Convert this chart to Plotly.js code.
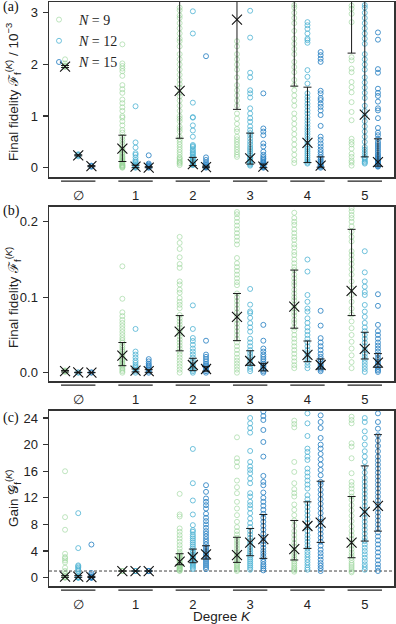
<!DOCTYPE html>
<html>
<head>
<meta charset="utf-8">
<script src="https://cdn.plot.ly/plotly-3.0.1.min.js"></script>
<style>
  html, body { margin: 0; padding: 0; background: #fff; }
  #myDiv { width: 396px; height: 624px; }
</style>
</head>
<body>
<div id="myDiv"></div>
<script>
var cats = ['\u2205', '1', '2', '3', '4', '5'];
var Ns = [9, 12, 15];

// panel (a): final fidelity / 1e-3, one list per degree
var aPts9 = [
  [1.95, 1.96, 1.97, 1.98, 2.02, 2.1],
  [0.0, 0.01, 0.02, 0.03, 0.04, 0.05, 0.06, 0.08, 0.1, 0.12, 0.14, 0.16, 0.18, 0.2, 0.22, 0.25, 0.28, 0.3, 0.33, 0.36, 0.4, 0.45, 0.5, 0.55, 0.6, 0.68, 0.73, 0.82, 0.9, 0.97, 1.0, 1.1, 1.17, 1.25, 1.32, 1.45, 1.52, 1.6, 1.78, 1.87, 1.92, 1.97, 2.02, 2.39],
  [0.05, 0.08, 0.1, 0.12, 0.15, 0.18, 0.2, 0.25, 0.3, 0.35, 0.4, 0.45, 0.5, 0.55, 0.6, 0.7, 0.75, 0.8, 0.9, 0.95, 1.0, 1.1, 1.2, 1.3, 1.38, 1.45, 1.55, 1.62, 1.7, 1.8, 1.9, 2.0, 2.1, 2.2, 2.35, 2.45, 2.5, 2.6, 2.7, 2.8, 2.9, 2.95, 3.05, 3.1, 3.5, 4.2, 5.1],
  [0.21, 0.25, 0.3, 0.35, 0.4, 0.45, 0.5, 0.55, 0.6, 0.7, 0.75, 0.85, 0.95, 1.05, 1.2, 1.3, 1.4, 1.5, 1.6, 1.75, 1.9, 2.0, 2.1, 2.2, 2.35, 2.45, 3.6, 4.5, 5.8, 7.2],
  [0.09, 0.15, 0.25, 0.35, 0.45, 0.55, 0.65, 0.75, 0.85, 0.95, 1.05, 1.2, 1.3, 1.4, 1.5, 1.6, 1.7, 1.85, 1.95, 2.05, 2.2, 2.3, 2.4, 2.5, 2.65, 2.8, 2.9, 3.0, 3.1, 3.15, 3.6, 4.3, 5.2, 6.5],
  [0.04, 0.1, 0.14, 0.21, 0.27, 0.37, 0.45, 0.5, 0.56, 0.92, 1.08, 1.27, 1.46, 1.56, 1.66, 1.85, 1.92, 2.08, 2.14, 2.82, 2.98, 3.08, 3.14, 3.6, 4.4, 5.5, 7.0]
];
var aPts12 = [
  [0.22, 0.24, 0.25, 0.26],
  [0.0, 0.01, 0.02, 0.03, 0.04, 0.05, 0.07, 0.1, 0.12, 0.15, 0.2, 0.25, 0.28, 0.39, 0.49, 1.19],
  [0.05, 0.06, 0.07, 0.08, 0.1, 0.12, 0.15, 0.18, 0.2, 0.22, 0.25, 0.28, 0.3, 0.33, 0.36, 0.4, 0.42, 0.44, 0.6, 0.72, 0.82, 0.97, 0.98, 1.26, 2.6, 3.03],
  [0.04, 0.06, 0.08, 0.1, 0.12, 0.15, 0.18, 0.2, 0.24, 0.28, 0.32, 0.36, 0.4, 0.45, 0.5, 0.56, 0.62, 0.67, 0.73, 0.8, 0.89, 0.96, 1.05, 1.15, 1.36, 1.44, 1.5, 1.75, 1.84, 2.52, 3.04],
  [0.08, 0.1, 0.13, 0.16, 0.2, 0.24, 0.28, 0.32, 0.36, 0.4, 0.45, 0.5, 0.55, 0.6, 0.65, 0.7, 0.75, 0.8, 0.86, 0.92, 0.98, 1.05, 1.11, 1.18, 1.24, 1.31, 1.37, 1.44, 1.63, 1.76, 1.89, 2.42, 2.47, 2.5, 2.6, 2.69, 2.76, 2.82],
  [0.08, 0.1, 0.12, 0.15, 0.18, 0.2, 0.25, 0.3, 0.35, 0.4, 0.5, 0.6, 0.7, 0.8, 0.9, 1.0, 1.1, 1.2, 1.35, 1.45, 1.55, 1.65, 1.75, 1.9, 2.0, 2.1, 2.2, 2.4, 2.5, 2.6, 2.7, 2.8, 2.9, 3.0, 3.1, 3.15, 3.7, 4.5]
];
var aPts15 = [
  [0.02, 0.03, 0.04],
  [0.0, 0.01, 0.02, 0.03, 0.04, 0.06, 0.08, 0.24],
  [0.0, 0.01, 0.02, 0.03, 0.05, 0.07, 0.1, 0.15, 0.2, 2.16],
  [0.0, 0.01, 0.02, 0.03, 0.04, 0.06, 0.08, 0.1, 0.12, 0.15, 0.18, 0.21, 0.25, 0.31, 0.41, 0.47, 0.63, 0.7, 0.76, 1.44],
  [0.0, 0.02, 0.03, 0.05, 0.07, 0.1, 0.13, 0.16, 0.2, 0.25, 0.3, 0.35, 0.41, 0.47, 0.54, 0.6, 0.81, 1.02, 1.11, 1.18, 1.24, 1.31, 1.35, 1.44, 1.49, 2.05, 2.11, 2.18, 2.24],
  [0.02, 0.03, 0.05, 0.07, 0.09, 0.11, 0.13, 0.15, 0.18, 0.2, 0.23, 0.26, 0.3, 0.34, 0.38, 0.42, 0.46, 0.5, 0.56, 0.63, 0.68, 0.77, 0.96, 1.11, 1.15, 1.28, 1.39, 1.45, 1.53, 1.84, 1.91, 2.48, 2.62]
];
var aMean9 = [1.96, 0.37, 1.49, 2.87, 3.6, 4.0];
var aHi9 = [1.98, 0.63, 3.6, 3.9, 4.5, 5.0];
var aLo9 = [1.94, 0.12, 0.57, 1.13, 1.58, 2.22];
var aMean12 = [0.24, 0.02, 0.07, 0.18, 0.48, 1.03];
var aHi12 = [0.25, 0.05, 0.2, 0.67, 1.56, 3.9];
var aLo12 = [0.23, 0.0, 0.04, 0.07, 0.1, 0.21];
var aMean15 = [0.03, 0.0, 0.01, 0.02, 0.04, 0.11];
var aHi15 = [0.04, 0.02, 0.03, 0.07, 0.21, 0.56];
var aLo15 = [0.02, 0.0, 0.0, 0.0, 0.01, 0.03];

// panel (b): final fidelity
var bPts9 = [
  [0.001, 0.002, 0.002, 0.003],
  [0.0, 0.002, 0.004, 0.006, 0.008, 0.01, 0.012, 0.014, 0.016, 0.018, 0.02, 0.022, 0.025, 0.028, 0.03, 0.033, 0.036, 0.04, 0.043, 0.046, 0.05, 0.054, 0.058, 0.062, 0.066, 0.07, 0.075, 0.08, 0.098, 0.141],
  [0.0, 0.004, 0.008, 0.012, 0.016, 0.02, 0.024, 0.028, 0.032, 0.036, 0.04, 0.044, 0.048, 0.052, 0.056, 0.06, 0.064, 0.068, 0.072, 0.0765, 0.0855, 0.09, 0.094, 0.099, 0.106, 0.11, 0.117, 0.121, 0.139, 0.144, 0.153, 0.164, 0.172, 0.18],
  [0.0, 0.004, 0.008, 0.012, 0.016, 0.02, 0.025, 0.03, 0.035, 0.04, 0.045, 0.05, 0.055, 0.06, 0.065, 0.07, 0.075, 0.08, 0.085, 0.09, 0.095, 0.1, 0.105, 0.116, 0.12, 0.125, 0.13, 0.135, 0.14, 0.145, 0.152, 0.17, 0.175, 0.18, 0.185, 0.19, 0.195, 0.2, 0.205, 0.21, 0.213],
  [0.006, 0.01, 0.015, 0.02, 0.025, 0.03, 0.035, 0.04, 0.045, 0.05, 0.056, 0.06, 0.066, 0.07, 0.076, 0.08, 0.085, 0.09, 0.096, 0.1, 0.105, 0.11, 0.116, 0.12, 0.125, 0.13, 0.136, 0.14, 0.145, 0.15, 0.156, 0.16, 0.166, 0.17, 0.176, 0.18, 0.185, 0.19, 0.196, 0.2, 0.205, 0.212],
  [0.006, 0.014, 0.023, 0.032, 0.041, 0.05, 0.059, 0.068, 0.077, 0.085, 0.094, 0.103, 0.112, 0.121, 0.13, 0.137, 0.144, 0.15, 0.156, 0.161, 0.174, 0.18, 0.187, 0.194, 0.2, 0.205, 0.209, 0.214, 0.218]
];
var bPts12 = [
  [0.0, 0.0005],
  [0.0, 0.002, 0.004, 0.006, 0.008, 0.01, 0.013, 0.016, 0.02, 0.024, 0.028, 0.058],
  [0.0, 0.002, 0.004, 0.006, 0.008, 0.01, 0.013, 0.016, 0.02, 0.024, 0.028, 0.032, 0.037, 0.042, 0.046, 0.058, 0.0892],
  [0.002, 0.005, 0.008, 0.011, 0.014, 0.018, 0.022, 0.026, 0.03, 0.035, 0.04, 0.045, 0.0544, 0.06, 0.0657, 0.0727, 0.079, 0.0812, 0.0902, 0.111],
  [0.006, 0.01, 0.014, 0.018, 0.022, 0.026, 0.03, 0.035, 0.04, 0.045, 0.05, 0.055, 0.06, 0.066, 0.072, 0.081, 0.085, 0.094, 0.103, 0.134, 0.15],
  [0.001, 0.005, 0.009, 0.013, 0.017, 0.021, 0.025, 0.03, 0.035, 0.04, 0.045, 0.05, 0.055, 0.06, 0.066, 0.074, 0.081, 0.0898, 0.103, 0.107, 0.114, 0.121, 0.133, 0.161]
];
var bPts15 = [
  [0.0, 0.0005],
  [0.0, 0.002, 0.004, 0.006, 0.008, 0.01, 0.012, 0.015, 0.018],
  [0.0, 0.002, 0.004, 0.006, 0.008, 0.01, 0.012, 0.015, 0.018, 0.021, 0.024, 0.0424],
  [0.0, 0.002, 0.004, 0.006, 0.008, 0.01, 0.012, 0.015, 0.018, 0.021, 0.024, 0.028, 0.032, 0.0424, 0.0634],
  [0.002, 0.004, 0.006, 0.008, 0.01, 0.012, 0.015, 0.018, 0.021, 0.025, 0.03, 0.035, 0.04, 0.0458, 0.0624, 0.082],
  [0.001, 0.003, 0.005, 0.008, 0.011, 0.014, 0.017, 0.02, 0.024, 0.028, 0.032, 0.036, 0.04, 0.045, 0.05, 0.055, 0.0634, 0.0886, 0.104]
];
var bMean9 = [0.002, 0.0226, 0.0545, 0.074, 0.0877, 0.1085];
var bHi9 = [0.003, 0.040, 0.0757, 0.105, 0.136, 0.19];
var bLo9 = [0.001, 0.0093, 0.029, 0.0425, 0.059, 0.0757];
var bMean12 = [0.0003, 0.0027, 0.0102, 0.0155, 0.0235, 0.0315];
var bHi12 = [0.0005, 0.005, 0.0191, 0.0291, 0.042, 0.0536];
var bLo12 = [0.0, 0.001, 0.0027, 0.0098, 0.0146, 0.0182];
var bMean15 = [0.0002, 0.002, 0.0049, 0.008, 0.0102, 0.0134];
var bHi15 = [0.0004, 0.004, 0.008, 0.0124, 0.0182, 0.0253];
var bLo15 = [0.0, 0.0005, 0.002, 0.0024, 0.0049, 0.0072];

// panel (c): gain
var cPts9 = [
  [0.01, 0.02, 0.05, 0.1, 0.3, 0.6, 1.0, 1.5, 2.3, 2.6, 2.9, 3.1, 3.6, 7.2, 9.1, 16.0],
  [1.0, 1.0, 1.0],
  [1.0, 1.1, 1.2, 1.3, 1.4, 1.5, 1.6, 1.7, 1.8, 1.9, 2.0, 2.2, 2.4, 2.6, 2.8, 3.0, 3.2, 3.4, 3.6, 3.9, 4.4, 4.9, 5.4, 5.9, 6.4, 6.9, 7.4, 9.2, 9.5, 12.6],
  [1.0, 1.2, 1.4, 1.6, 1.8, 2.0, 2.2, 2.5, 2.8, 3.1, 3.4, 3.7, 4.0, 4.4, 4.8, 5.2, 5.6, 6.0, 6.5, 7.0, 7.6, 8.4, 9.4, 10.4, 11.4, 12.7, 13.6, 14.6, 16.7, 17.4, 17.95, 21.1],
  [0.9, 1.1, 1.3, 1.5, 1.8, 2.1, 2.4, 2.7, 3.0, 3.4, 3.8, 4.2, 4.7, 5.2, 5.8, 6.4, 7.0, 7.8, 8.6, 9.4, 10.2, 11.0, 12.2, 12.7, 13.3, 14.2, 15.9, 17.4, 22.6, 23.1, 23.6],
  [0.8, 1.0, 1.3, 1.6, 1.9, 2.2, 2.6, 3.0, 3.4, 3.8, 4.3, 4.8, 5.3, 5.8, 6.4, 7.0, 7.7, 8.5, 9.3, 10.1, 10.9, 11.7, 12.2, 12.8, 13.4, 13.9, 14.4, 15.7, 17.95, 19.7, 20.2, 23.2, 23.7, 24.2]
];
var cPts12 = [
  [0.0, 0.01, 0.02, 0.05, 0.1, 0.3, 0.6, 1.05, 1.3, 1.5, 1.7, 1.85, 4.45, 9.7],
  [1.0, 1.0, 1.0],
  [1.3, 1.5, 1.7, 1.9, 2.1, 2.3, 2.5, 2.7, 2.9, 3.1, 3.3, 3.5, 3.8, 4.1, 4.4, 4.7, 5.0, 5.3, 5.6, 5.9, 6.2, 6.5, 6.9, 7.15, 7.9, 9.5, 11.6, 14.2, 19.35],
  [1.2, 1.5, 1.8, 2.1, 2.4, 2.7, 3.0, 3.3, 3.6, 3.9, 4.3, 4.7, 5.1, 5.5, 6.0, 6.5, 7.0, 7.6, 8.2, 8.9, 9.7, 10.4, 10.9, 11.4, 12.2, 12.7, 14.2, 14.9, 15.7, 16.2, 16.7, 17.4, 19.05, 21.8, 22.5, 23.2, 24.0],
  [1.2, 1.5, 1.9, 2.3, 2.7, 3.1, 3.5, 3.9, 4.4, 4.9, 5.4, 5.9, 6.4, 7.0, 7.6, 8.2, 8.8, 9.4, 10.0, 10.6, 11.2, 11.8, 12.4, 13.4, 14.0, 14.6, 15.2, 15.8, 16.4, 17.7, 18.2, 18.9, 19.4, 21.3, 23.2, 24.7],
  [1.2, 1.6, 2.0, 2.5, 3.0, 3.5, 4.0, 4.5, 5.0, 5.5, 6.0, 6.6, 7.2, 7.8, 8.4, 9.0, 9.6, 10.2, 10.8, 11.4, 12.0, 12.6, 13.2, 13.8, 14.4, 15.0, 15.8, 16.6, 17.4, 18.2, 19.0, 20.0, 21.0, 22.0, 23.4, 24.0]
];
var cPts15 = [
  [0.0, 0.01, 0.02, 0.05, 0.1, 0.2, 0.4, 0.7, 4.98],
  [1.0, 1.0, 1.0],
  [1.3, 1.6, 1.9, 2.2, 2.5, 2.8, 3.1, 3.4, 3.7, 4.0, 4.3, 4.6, 5.0, 5.4, 5.8, 6.2, 6.6, 7.0, 7.5, 8.0, 8.5, 9.0, 9.6, 10.4, 10.9, 11.4, 11.9, 12.9, 13.9],
  [1.1, 1.4, 1.7, 2.0, 2.4, 2.8, 3.2, 3.6, 4.0, 4.5, 5.0, 5.5, 6.0, 6.6, 7.2, 7.8, 8.4, 9.0, 9.6, 10.2, 10.8, 11.4, 12.0, 12.8, 13.9, 14.4, 15.3, 18.2, 20.4, 22.2, 23.7, 24.3, 24.97, 25.5, 27, 29],
  [1.0, 1.4, 1.8, 2.2, 2.7, 3.2, 3.7, 4.2, 4.8, 5.4, 6.0, 6.6, 7.2, 7.8, 8.4, 9.0, 9.7, 10.4, 11.1, 11.8, 12.5, 13.2, 14.0, 14.4, 15.4, 16.2, 17.0, 17.8, 18.6, 19.4, 20.0, 21.0, 22.5, 23.4, 24.4],
  [1.0, 1.5, 2.0, 2.6, 3.2, 3.8, 4.4, 5.0, 5.6, 6.2, 6.8, 7.4, 8.0, 8.6, 9.2, 9.8, 10.4, 11.0, 11.6, 12.2, 12.8, 13.4, 14.0, 14.6, 15.2, 15.8, 16.4, 17.0, 17.6, 18.2, 19.0, 19.8, 20.6, 21.4, 22.4, 23.4, 24.7]
];
var cMean9 = [0.15, 1.0, 2.4, 3.4, 4.3, 5.26];
var cHi9 = [0.3, 1.0, 3.6, 6.07, 8.6, 12.2];
var cLo9 = [0.05, 1.0, 1.95, 2.3, 2.66, 3.0];
var cMean12 = [0.15, 1.0, 3.07, 5.26, 7.77, 9.9];
var cHi12 = [0.3, 1.0, 4.3, 7.4, 11.4, 16.8];
var cLo12 = [0.05, 1.0, 2.25, 3.3, 4.4, 5.5];
var cMean15 = [0.1, 1.0, 3.5, 5.8, 8.27, 10.8];
var cHi15 = [0.2, 1.0, 4.8, 9.5, 14.5, 21.5];
var cLo15 = [0.03, 1.0, 2.8, 2.9, 5.3, 7.0];

var colors = ['rgba(150,212,150,0.6)', 'rgba(78,179,211,0.8)', 'rgba(43,130,195,0.85)'];
var offs = [-0.23, 0, 0.23];
var sans = 'Liberation Sans, Arial, sans-serif';
var serif = 'Liberation Serif, Times New Roman, serif';

var data = [];

function addPanel(xa, ya, pts, means, his, los, legend) {
  for (var j = 0; j < 3; j++) {
    var x = [], y = [];
    pts[j].forEach(function (vals, k) {
      vals.forEach(function (v) { x.push(k + offs[j]); y.push(v); });
    });
    data.push({
      type: 'scatter', mode: 'markers', x: x, y: y, xaxis: xa, yaxis: ya,
      name: '<i>N</i> = ' + Ns[j], legendgroup: 'n' + j, showlegend: legend,
      marker: {symbol: 'circle-open', size: 5, color: colors[j], line: {width: 1}},
      hoverinfo: 'skip'
    });
  }
  for (var j = 0; j < 3; j++) {
    var m = means[j], h = his[j], l = los[j];
    data.push({
      type: 'scatter', mode: 'markers', xaxis: xa, yaxis: ya, showlegend: false,
      x: m.map(function (_, k) { return k + offs[j]; }),
      y: m,
      error_y: {
        type: 'data', symmetric: false,
        array: m.map(function (v, k) { return h[k] - v; }),
        arrayminus: m.map(function (v, k) { return v - l[k]; }),
        color: '#1a1a1a', thickness: 1, width: 4
      },
      marker: {symbol: 'x-thin', size: 10, color: '#111', line: {width: 1.1, color: '#111'}},
      hoverinfo: 'skip'
    });
  }
}

addPanel('x', 'y', [aPts9, aPts12, aPts15], [aMean9, aMean12, aMean15], [aHi9, aHi12, aHi15], [aLo9, aLo12, aLo15], true);
addPanel('x2', 'y2', [bPts9, bPts12, bPts15], [bMean9, bMean12, bMean15], [bHi9, bHi12, bHi15], [bLo9, bLo12, bLo15], false);
addPanel('x3', 'y3', [cPts9, cPts12, cPts15], [cMean9, cMean12, cMean15], [cHi9, cHi12, cHi15], [cLo9, cLo12, cLo15], false);

var H = 624, W = 396;
function py(px) { return 1 - px / H; }

function xAxis(anchor) {
  return {
    anchor: anchor, domain: [49 / W, 394 / W], range: [-0.51, 5.51],
    tickvals: cats.map(function (_, k) { return k; }), ticktext: cats,
    ticks: 'outside', ticklen: 6, tickcolor: 'rgba(0,0,0,0)',
    showline: true, mirror: true, linecolor: '#333', linewidth: 1.5,
    showgrid: false, zeroline: false,
    tickfont: {family: sans, size: 13, color: '#222'}
  };
}
function yAxis(anchor, top, bottom, range, dtick, fmt) {
  return {
    anchor: anchor, domain: [py(bottom), py(top)], range: range, dtick: dtick,
    tickformat: fmt, ticks: 'outside', ticklen: 5, tickwidth: 1.2, tickcolor: '#333',
    showline: true, mirror: true, linecolor: '#333', linewidth: 1.5,
    showgrid: false, zeroline: false, ticklabelstandoff: 2,
    tickfont: {family: sans, size: 13, color: '#222'}
  };
}

var shapes = [];
['x', 'x2', 'x3'].forEach(function (xa, p) {
  var ya = ['y', 'y2', 'y3'][p];
  cats.forEach(function (_, k) {
    shapes.push({
      type: 'line', xref: xa, yref: ya + ' domain', x0: k - 0.3, x1: k + 0.3, y0: -0.024, y1: -0.024,
      line: {color: '#222', width: 1.3}
    });
  });
});
shapes.push({
  type: 'line', xref: 'x3 domain', yref: 'y3', x0: 0, x1: 1, y0: 1, y1: 1,
  line: {color: '#111', width: 0.8, dash: '3px,2px'}, layer: 'below'
});

var annotations = [
  {text: '(a)', x: 1 / W, y: py(7), xanchor: 'left', yanchor: 'middle'},
  {text: '(b)', x: 1 / W, y: py(211), xanchor: 'left', yanchor: 'middle'},
  {text: '(c)', x: 1 / W, y: py(418), xanchor: 'left', yanchor: 'middle'}
].map(function (a) {
  a.xref = 'paper'; a.yref = 'paper'; a.showarrow = false;
  a.font = {family: serif, size: 14, color: '#111'};
  return a;
});
[
  {text: 'Final fidelity \u2131<sub>f</sub><sup>(<i>K</i>)</sup> / 10<sup>\u22123</sup>', y: py(92)},
  {text: 'Final fidelity \u2131<sub>f</sub><sup>(<i>K</i>)</sup>', y: py(298)},
  {text: 'Gain \uD835\uDCA2<sub>f</sub><sup>(<i>K</i>)</sup>', y: py(498)}
].forEach(function (a) {
  annotations.push({
    text: a.text, x: 13 / W, y: a.y, xref: 'paper', yref: 'paper', showarrow: false,
    textangle: -90, xanchor: 'center', yanchor: 'middle',
    font: {family: sans, size: 13.5, color: '#222'}
  });
});
annotations.push({
  text: 'Degree <i>K</i>', x: 221.5 / W, y: py(616), xref: 'paper', yref: 'paper',
  showarrow: false, xanchor: 'center', yanchor: 'middle',
  font: {family: sans, size: 13.5, color: '#222'}
});

var layout = {
  width: W, height: H,
  margin: {l: 0, r: 0, t: 0, b: 0},
  paper_bgcolor: '#fff', plot_bgcolor: '#fff',
  showlegend: true,
  legend: {
    x: 39 / W, y: py(4), xanchor: 'left', yanchor: 'top',
    bgcolor: 'rgba(0,0,0,0)', borderwidth: 0, itemwidth: 30,
    font: {family: serif, size: 14, color: '#222'}, tracegroupgap: 0
  },
  xaxis: xAxis('y'), xaxis2: xAxis('y2'), xaxis3: xAxis('y3'),
  yaxis: yAxis('x', 2, 177, [-0.18, 3.21], 1),
  yaxis2: yAxis('x2', 206.7, 381, [-0.011, 0.22], 0.1, '.1f'),
  yaxis3: yAxis('x3', 410.7, 586, [-1.25, 25.1], 4),
  shapes: shapes,
  annotations: annotations
};

Plotly.newPlot('myDiv', data, layout, {displayModeBar: false, staticPlot: true});
</script>
</body>
</html>
